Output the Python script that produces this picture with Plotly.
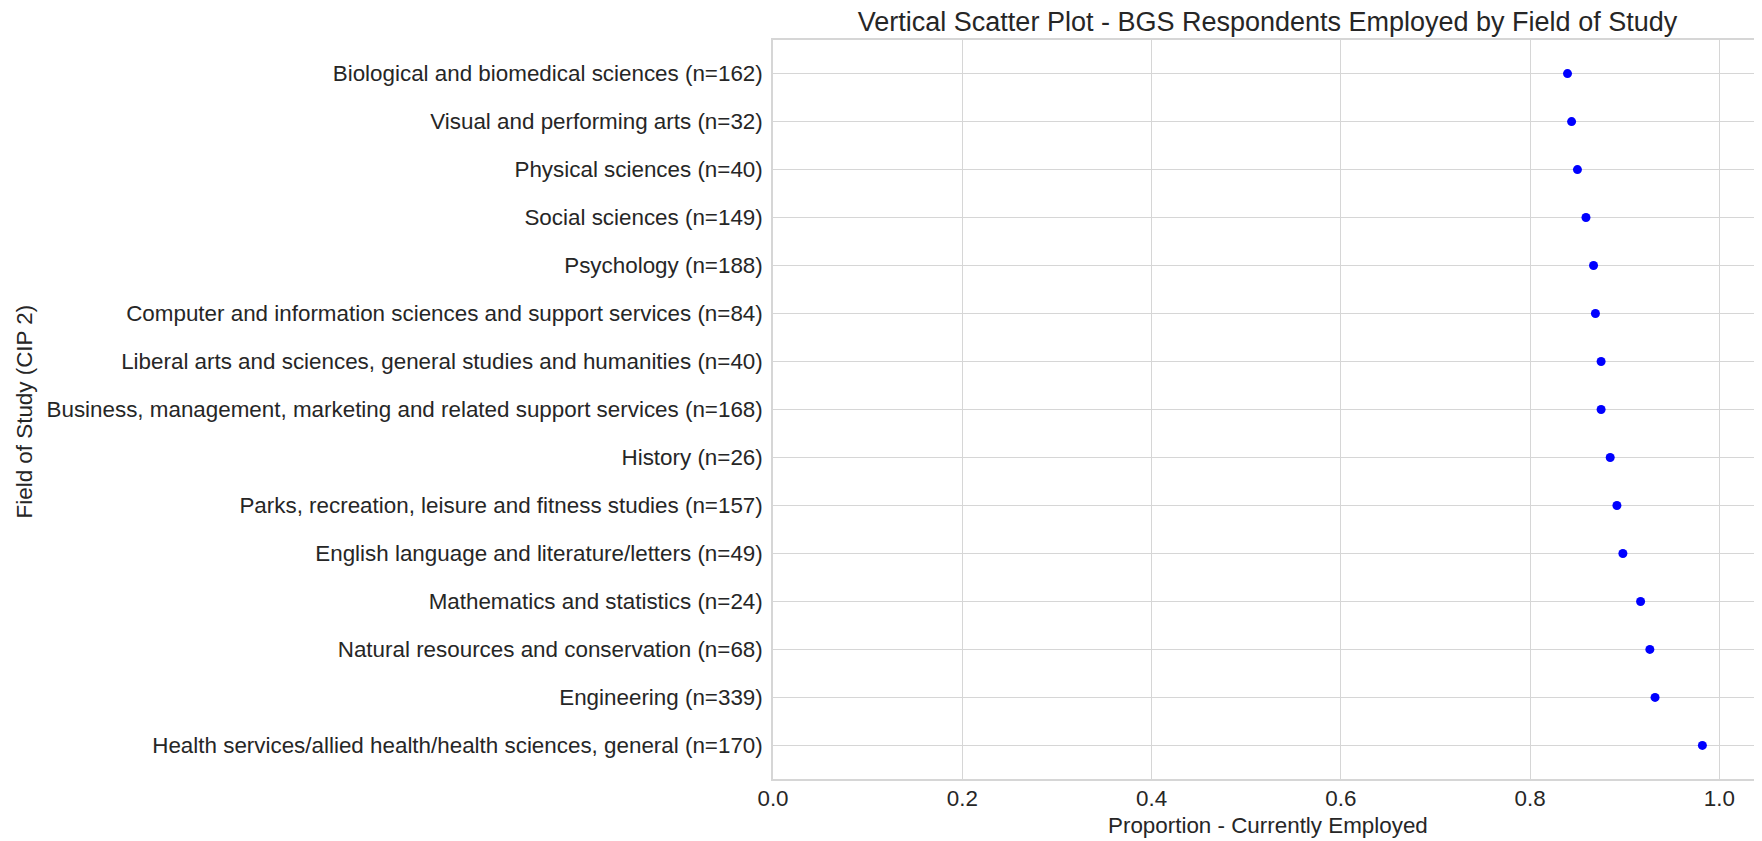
import plotly.graph_objects as go

fields = [
    "Biological and biomedical sciences (n=162)",
    "Visual and performing arts (n=32)",
    "Physical sciences (n=40)",
    "Social sciences (n=149)",
    "Psychology (n=188)",
    "Computer and information sciences and support services (n=84)",
    "Liberal arts and sciences, general studies and humanities (n=40)",
    "Business, management, marketing and related support services (n=168)",
    "History (n=26)",
    "Parks, recreation, leisure and fitness studies (n=157)",
    "English language and literature/letters (n=49)",
    "Mathematics and statistics (n=24)",
    "Natural resources and conservation (n=68)",
    "Engineering (n=339)",
    "Health services/allied health/health sciences, general (n=170)",
]
proportion_employed = [
    0.8395, 0.8438, 0.85, 0.859, 0.867, 0.869, 0.875, 0.875,
    0.8846, 0.8917, 0.898, 0.9167, 0.9265, 0.932, 0.982,
]
x_ticks = [0.0, 0.2, 0.4, 0.6, 0.8, 1.0]
x_tick_labels = ["0.0", "0.2", "0.4", "0.6", "0.8", "1.0"]

FONT = "Liberation Sans, Arial, sans-serif"
GRID = "#d6d6d6"
TXT = "#262626"
FS = 22.4

W, H = 1754, 833
ML, MT, MB = 765, 31.5, 62.3
plot_w = W - ML
plot_h = H - MT - MB

fig = go.Figure()
fig.add_trace(go.Scatter(
    x=proportion_employed,
    y=list(range(len(fields))),
    mode="markers",
    marker=dict(color="#0000ff", size=9, line=dict(width=0)),
    showlegend=False,
))

fig.update_layout(
    width=W, height=H,
    margin=dict(l=ML, r=0, t=MT, b=MB, pad=0, autoexpand=False),
    paper_bgcolor="white", plot_bgcolor="white",
    font=dict(family=FONT, color=TXT, size=FS),
    title=dict(
        text="Vertical Scatter Plot - BGS Respondents Employed by Field of Study",
        x=0.5, xref="paper", y=1 - 14 / H, yref="container",
        xanchor="center", yanchor="middle",
        font=dict(size=27, color=TXT, family=FONT),
    ),
    xaxis=dict(
        range=[0, 1.045],
        tickvals=x_ticks, ticktext=x_tick_labels,
        showgrid=True, gridcolor=GRID, gridwidth=1.3,
        zeroline=False,
        showline=True, linecolor=GRID, linewidth=1.5, mirror=True,
        ticks="", ticklabelstandoff=-2,
        tickfont=dict(size=FS),
        automargin=False,
    ),
    yaxis=dict(
        range=[14.7, -0.7],
        tickvals=list(range(len(fields))), ticktext=fields,
        showgrid=True, gridcolor=GRID, gridwidth=1.3,
        zeroline=False,
        showline=True, linecolor=GRID, linewidth=1.5, mirror=True,
        ticks="", ticklabelstandoff=4,
        tickfont=dict(size=FS),
        automargin=False,
    ),
    annotations=[
        dict(
            text="Proportion - Currently Employed",
            x=0.5, xref="paper", y=(H - MB - 817) / plot_h, yref="paper",
            xanchor="center", yanchor="middle", showarrow=False,
            font=dict(size=FS, color=TXT, family=FONT),
        ),
        dict(
            text="Field of Study (CIP 2)",
            x=(16 - ML) / plot_w, xref="paper", y=(H - MB - 403) / plot_h, yref="paper",
            xanchor="center", yanchor="middle", textangle=-90, showarrow=False,
            font=dict(size=FS, color=TXT, family=FONT),
        ),
    ],
)

fig.write_html("out.html")
